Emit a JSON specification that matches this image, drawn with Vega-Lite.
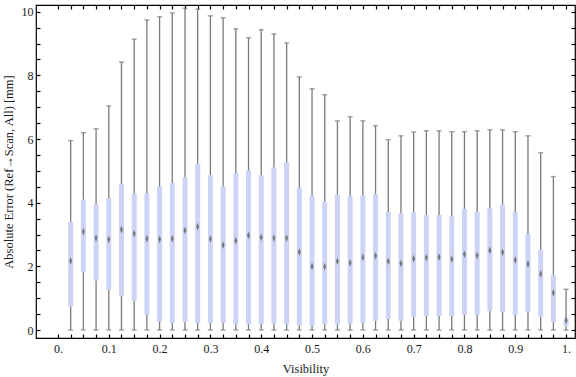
{
  "$schema": "https://vega.github.io/schema/vega-lite/v6.json",
  "autosize": {"type": "none"},
  "padding": {"left": 36, "top": 5, "right": 1, "bottom": 39},
  "width": 539,
  "height": 333,
  "background": "white",
  "config": {
    "view": {"stroke": "black", "strokeWidth": 1.2},
    "axis": {
      "labelFont": "Liberation Serif",
      "titleFont": "Liberation Serif",
      "labelFontSize": 12,
      "titleFontSize": 12.5,
      "titleFontWeight": "normal",
      "labelColor": "#1a1a1a",
      "titleColor": "#1a1a1a",
      "domain": false,
      "offset": -4,
      "tickColor": "black",
      "tickWidth": 1.2,
      "tickSize": 9,
      "tickDash": [4, 30],
      "grid": false,
      "labelOverlap": false,
      "labelFlush": false
    }
  },
  "data": {
    "values": [
      {"v": 0.025, "lo": 0, "q1": 0.73, "med": 2.17, "q3": 3.39, "hi": 5.95},
      {"v": 0.05, "lo": 0, "q1": 1.82, "med": 3.09, "q3": 4.10, "hi": 6.20},
      {"v": 0.075, "lo": 0, "q1": 1.55, "med": 2.89, "q3": 3.95, "hi": 6.32},
      {"v": 0.1, "lo": 0, "q1": 1.25, "med": 2.84, "q3": 4.14, "hi": 7.04},
      {"v": 0.125, "lo": 0, "q1": 1.08, "med": 3.15, "q3": 4.58, "hi": 8.42},
      {"v": 0.15, "lo": 0, "q1": 0.91, "med": 3.03, "q3": 4.29, "hi": 9.14},
      {"v": 0.175, "lo": 0, "q1": 0.48, "med": 2.87, "q3": 4.29, "hi": 9.74},
      {"v": 0.2, "lo": 0, "q1": 0.26, "med": 2.85, "q3": 4.51, "hi": 9.84},
      {"v": 0.225, "lo": 0, "q1": 0.22, "med": 2.87, "q3": 4.63, "hi": 9.96},
      {"v": 0.25, "lo": 0, "q1": 0.25, "med": 3.13, "q3": 4.79, "hi": 10.11},
      {"v": 0.275, "lo": 0, "q1": 0.22, "med": 3.25, "q3": 5.23, "hi": 10.08},
      {"v": 0.3, "lo": 0, "q1": 0.22, "med": 2.86, "q3": 4.86, "hi": 9.87},
      {"v": 0.325, "lo": 0, "q1": 0.22, "med": 2.67, "q3": 4.51, "hi": 9.81},
      {"v": 0.35, "lo": 0, "q1": 0.17, "med": 2.81, "q3": 4.94, "hi": 9.46},
      {"v": 0.375, "lo": 0, "q1": 0.17, "med": 2.97, "q3": 5.02, "hi": 9.18},
      {"v": 0.4, "lo": 0, "q1": 0.18, "med": 2.91, "q3": 4.86, "hi": 9.43},
      {"v": 0.425, "lo": 0, "q1": 0.20, "med": 2.89, "q3": 5.11, "hi": 9.30},
      {"v": 0.45, "lo": 0, "q1": 0.18, "med": 2.89, "q3": 5.27, "hi": 9.02},
      {"v": 0.475, "lo": 0, "q1": 0.14, "med": 2.45, "q3": 4.48, "hi": 7.95},
      {"v": 0.5, "lo": 0, "q1": 0.14, "med": 2.00, "q3": 4.23, "hi": 7.58},
      {"v": 0.525, "lo": 0, "q1": 0.18, "med": 1.99, "q3": 4.04, "hi": 7.39},
      {"v": 0.55, "lo": 0, "q1": 0.17, "med": 2.16, "q3": 4.26, "hi": 6.57},
      {"v": 0.575, "lo": 0, "q1": 0.20, "med": 2.11, "q3": 4.21, "hi": 6.70},
      {"v": 0.6, "lo": 0, "q1": 0.23, "med": 2.28, "q3": 4.23, "hi": 6.57},
      {"v": 0.625, "lo": 0, "q1": 0.29, "med": 2.33, "q3": 4.27, "hi": 6.42},
      {"v": 0.65, "lo": 0, "q1": 0.35, "med": 2.16, "q3": 3.71, "hi": 5.98},
      {"v": 0.675, "lo": 0, "q1": 0.29, "med": 2.09, "q3": 3.67, "hi": 6.10},
      {"v": 0.7, "lo": 0, "q1": 0.41, "med": 2.24, "q3": 3.70, "hi": 6.22},
      {"v": 0.725, "lo": 0, "q1": 0.44, "med": 2.27, "q3": 3.61, "hi": 6.26},
      {"v": 0.75, "lo": 0, "q1": 0.44, "med": 2.29, "q3": 3.61, "hi": 6.26},
      {"v": 0.775, "lo": 0, "q1": 0.44, "med": 2.23, "q3": 3.57, "hi": 6.23},
      {"v": 0.8, "lo": 0, "q1": 0.47, "med": 2.38, "q3": 3.81, "hi": 6.23},
      {"v": 0.825, "lo": 0, "q1": 0.48, "med": 2.34, "q3": 3.72, "hi": 6.26},
      {"v": 0.85, "lo": 0, "q1": 0.60, "med": 2.50, "q3": 3.82, "hi": 6.29},
      {"v": 0.875, "lo": 0, "q1": 0.56, "med": 2.44, "q3": 3.94, "hi": 6.29},
      {"v": 0.9, "lo": 0, "q1": 0.47, "med": 2.20, "q3": 3.70, "hi": 6.23},
      {"v": 0.925, "lo": 0, "q1": 0.56, "med": 2.07, "q3": 3.00, "hi": 6.10},
      {"v": 0.95, "lo": 0, "q1": 0.41, "med": 1.76, "q3": 2.53, "hi": 5.57},
      {"v": 0.975, "lo": 0, "q1": 0.25, "med": 1.17, "q3": 1.72, "hi": 4.82},
      {"v": 1.0, "lo": 0, "q1": 0.13, "med": 0.30, "q3": 0.37, "hi": 1.28}
    ]
  },
  "resolve": {"axis": {"x": "independent", "y": "independent"}},
  "layer": [
    {
      "mark": {"type": "rule", "color": "#7a7a7a", "strokeWidth": 1.3},
      "encoding": {
        "x": {
          "field": "v", "type": "quantitative",
          "scale": {"domain": [-0.0334, 1.0077], "nice": false, "zero": false},
          "axis": {
            "orient": "bottom",
            "title": "Visibility",
            "titlePadding": 8,
            "labelPadding": 0,
            "values": [0, 0.025, 0.05, 0.075, 0.1, 0.125, 0.15, 0.175, 0.2, 0.225, 0.25, 0.275, 0.3, 0.325, 0.35, 0.375, 0.4, 0.425, 0.45, 0.475, 0.5, 0.525, 0.55, 0.575, 0.6, 0.625, 0.65, 0.675, 0.7, 0.725, 0.75, 0.775, 0.8, 0.825, 0.85, 0.875, 0.9, 0.925, 0.95, 0.975, 1.0],
            "labelExpr": "abs(datum.value * 10 - round(datum.value * 10)) < 0.001 ? (datum.value == 0 ? '0.' : (datum.value == 1 ? '1.' : format(datum.value, '.1f'))) : ''"
          }
        },
        "y": {
          "field": "lo", "type": "quantitative",
          "scale": {"domain": [-0.251, 10.21], "nice": false, "zero": false},
          "axis": {
            "orient": "left",
            "title": "Absolute Error (Ref→Scan, All) [mm]",
            "titlePadding": 6,
            "labelPadding": -2,
            "values": [0, 0.5, 1, 1.5, 2, 2.5, 3, 3.5, 4, 4.5, 5, 5.5, 6, 6.5, 7, 7.5, 8, 8.5, 9, 9.5, 10],
            "labelExpr": "datum.value % 2 == 0 ? format(datum.value, 'd') : ''"
          }
        },
        "y2": {"field": "hi"}
      }
    },
    {
      "mark": {"type": "tick", "orient": "horizontal", "color": "#7a7a7a", "size": 5, "thickness": 1.4},
      "encoding": {
        "x": {
          "field": "v", "type": "quantitative",
          "axis": {
            "orient": "top", "title": null, "labels": false,
            "values": [0, 0.025, 0.05, 0.075, 0.1, 0.125, 0.15, 0.175, 0.2, 0.225, 0.25, 0.275, 0.3, 0.325, 0.35, 0.375, 0.4, 0.425, 0.45, 0.475, 0.5, 0.525, 0.55, 0.575, 0.6, 0.625, 0.65, 0.675, 0.7, 0.725, 0.75, 0.775, 0.8, 0.825, 0.85, 0.875, 0.9, 0.925, 0.95, 0.975, 1.0]
          }
        },
        "y": {
          "field": "hi", "type": "quantitative",
          "axis": {
            "orient": "right", "title": null, "labels": false,
            "values": [0, 0.5, 1, 1.5, 2, 2.5, 3, 3.5, 4, 4.5, 5, 5.5, 6, 6.5, 7, 7.5, 8, 8.5, 9, 9.5, 10]
          }
        }
      }
    },
    {
      "mark": {"type": "tick", "orient": "horizontal", "color": "#7a7a7a", "size": 5, "thickness": 1.4},
      "encoding": {
        "x": {"field": "v", "type": "quantitative", "axis": null},
        "y": {"field": "lo", "type": "quantitative", "axis": null}
      }
    },
    {
      "mark": {"type": "bar", "color": "#cdd3f5", "size": 5},
      "encoding": {
        "x": {"field": "v", "type": "quantitative", "axis": null},
        "y": {"field": "q1", "type": "quantitative", "axis": null},
        "y2": {"field": "q3"}
      }
    },
    {
      "mark": {"type": "point", "shape": "M0,-1L0.38,0L0,1L-0.38,0Z", "filled": true, "size": 60, "color": "#6e6e6e", "opacity": 0.9},
      "encoding": {
        "x": {"field": "v", "type": "quantitative", "axis": null},
        "y": {"field": "med", "type": "quantitative", "axis": null}
      }
    }
  ]
}
